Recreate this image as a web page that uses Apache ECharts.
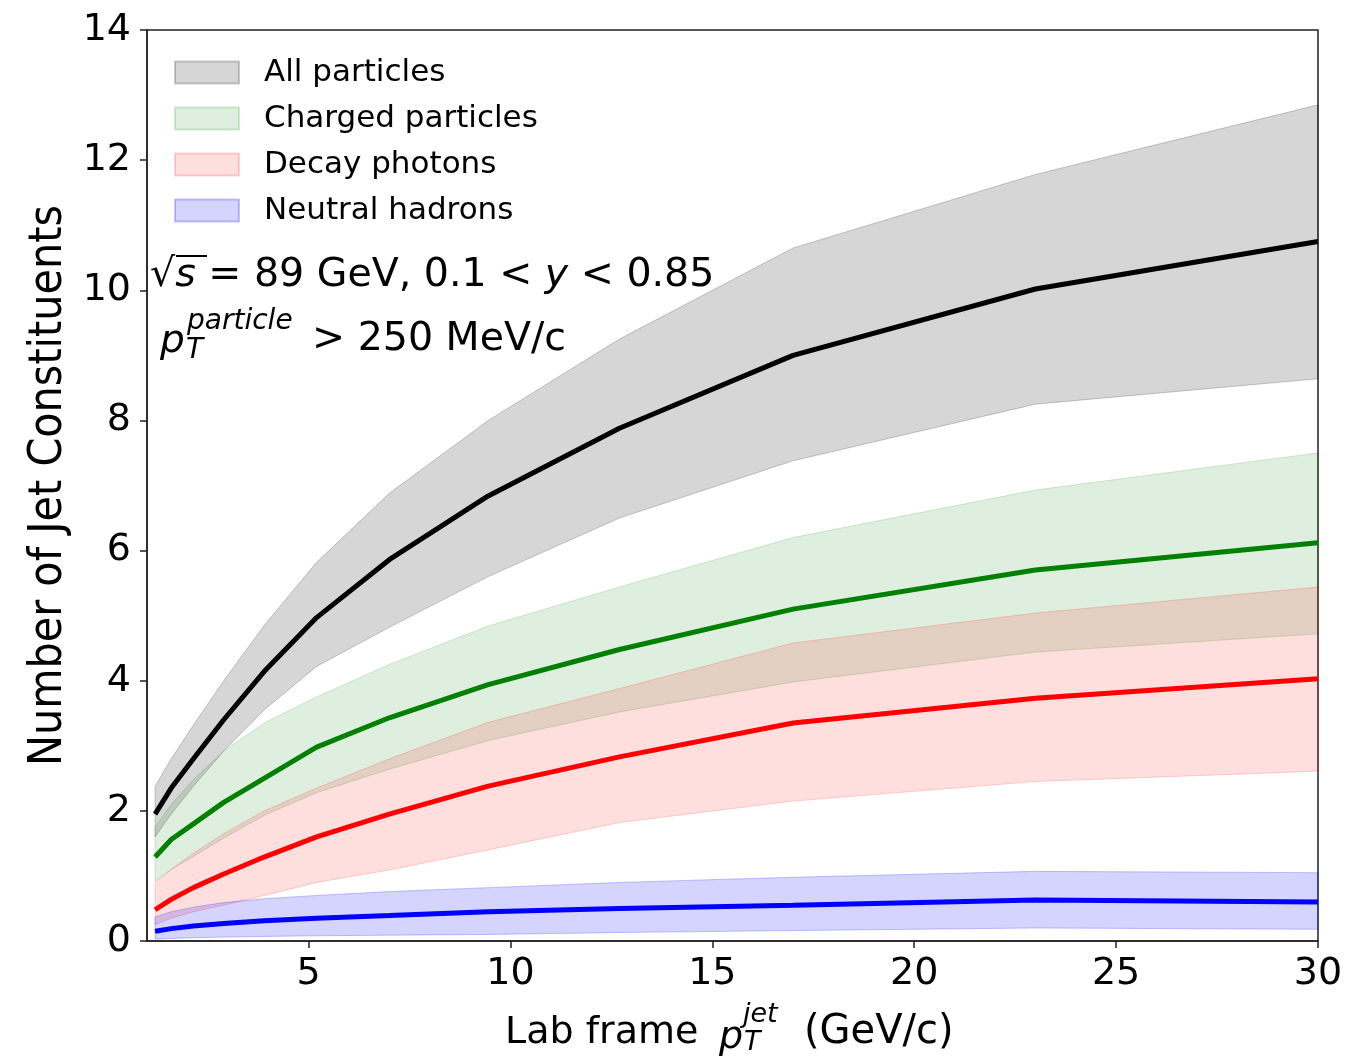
<!DOCTYPE html>
<html>
<head>
<meta charset="utf-8">
<script src="https://cdn.jsdelivr.net/npm/echarts@6/dist/echarts.min.js"></script>
<style>
html,body{margin:0;padding:0;background:#fff;}
#chart{width:1353px;height:1063px;}
</style>
</head>
<body>
<div id="chart"></div>
<script>
// ---------- data ----------
const ptJet = [1.2, 1.6, 2.15, 2.9, 3.9, 5.2, 7.0, 9.45, 12.7, 17.0, 23.0, 30.0];

const allMean  = [1.95, 2.35, 2.80, 3.40, 4.14, 4.97, 5.86, 6.84, 7.88, 9.00, 10.02, 10.75];
const allUpper = [2.38, 2.80, 3.32, 4.00, 4.85, 5.82, 6.88, 8.00, 9.25, 10.65, 11.78, 12.85];
const allLower = [1.60, 1.95, 2.38, 2.92, 3.55, 4.22, 4.82, 5.60, 6.50, 7.38, 8.25, 8.64];

const chgMean  = [1.29, 1.56, 1.80, 2.13, 2.50, 2.98, 3.43, 3.94, 4.48, 5.10, 5.70, 6.12];
const chgUpper = [1.75, 2.10, 2.48, 2.92, 3.35, 3.75, 4.25, 4.84, 5.44, 6.20, 6.93, 7.50];
const chgLower = [0.92, 1.10, 1.30, 1.58, 1.93, 2.28, 2.64, 3.08, 3.52, 3.98, 4.44, 4.72];

const phoMean  = [0.48, 0.64, 0.82, 1.03, 1.29, 1.60, 1.95, 2.38, 2.83, 3.35, 3.73, 4.03];
const phoUpper = [0.90, 1.10, 1.35, 1.65, 2.00, 2.35, 2.80, 3.36, 3.88, 4.58, 5.04, 5.44];
const phoLower = [0.25, 0.35, 0.45, 0.55, 0.70, 0.90, 1.09, 1.40, 1.82, 2.15, 2.45, 2.61];

const neuMean  = [0.15, 0.19, 0.23, 0.27, 0.31, 0.35, 0.39, 0.45, 0.50, 0.55, 0.63, 0.60];
const neuUpper = [0.37, 0.45, 0.52, 0.59, 0.65, 0.70, 0.76, 0.82, 0.90, 0.98, 1.07, 1.05];
const neuLower = [0.03, 0.04, 0.05, 0.06, 0.07, 0.08, 0.09, 0.10, 0.13, 0.16, 0.20, 0.18];

const legendNames = ['All particles', 'Charged particles', 'Decay photons', 'Neutral hadrons'];
const xTickValues = [5, 10, 15, 20, 25, 30];
const yTickValues = [0, 2, 4, 6, 8, 10, 12, 14];

// ---------- helpers ----------
const FONT = "'DejaVu Sans', 'Liberation Sans', sans-serif";
function pairs(ys) { return ptJet.map((x, i) => [x, ys[i]]); }

// band between lower and upper, drawn as one polygon through the axis scales
function bandSeries(name, up, lo, fill, edge) {
  return {
    name: name, type: 'custom', coordinateSystem: 'cartesian2d',
    data: ptJet.map((x, i) => [x, lo[i], up[i]]),
    encode: { x: 0, y: [1, 2] },
    silent: true,
    itemStyle: { color: fill, borderColor: edge, borderWidth: 1 },
    renderItem: function (params, api) {
      if (params.dataIndex !== 0) return null;
      const pts = [];
      for (let i = 0; i < ptJet.length; i++) pts.push(api.coord([ptJet[i], up[i]]));
      for (let i = ptJet.length - 1; i >= 0; i--) pts.push(api.coord([ptJet[i], lo[i]]));
      return {
        type: 'polygon',
        shape: { points: pts },
        style: { fill: fill, stroke: edge, lineWidth: 1 }
      };
    }
  };
}
function meanSeries(key, ys, color) {
  return {
    name: key + '_mean', type: 'line', data: pairs(ys),
    showSymbol: false, silent: true,
    lineStyle: { color: color, width: 5 }, itemStyle: { color: color }
  };
}

const series = [
  bandSeries(legendNames[0], allUpper, allLower, 'rgba(0,0,0,0.16)', 'rgba(0,0,0,0.2)'),
  meanSeries('all', allMean, '#000000'),
  bandSeries(legendNames[1], chgUpper, chgLower, 'rgba(0,128,0,0.125)', 'rgba(0,128,0,0.17)'),
  meanSeries('chg', chgMean, '#008000'),
  bandSeries(legendNames[2], phoUpper, phoLower, 'rgba(255,0,0,0.13)', 'rgba(255,0,0,0.17)'),
  meanSeries('pho', phoMean, '#ff0000'),
  bandSeries(legendNames[3], neuUpper, neuLower, 'rgba(0,0,255,0.17)', 'rgba(0,0,255,0.22)'),
  meanSeries('neu', neuMean, '#0000ff')
];

function txt(text, x, y, size, opts) {
  opts = opts || {};
  return {
    type: 'text', silent: true, z: 100,
    style: Object.assign({
      text: text, x: x, y: y, fontSize: size, fontFamily: FONT,
      fontStyle: opts.italic ? 'italic' : 'normal',
      fill: '#000', align: opts.align || 'left', verticalAlign: 'middle'
    }, opts.style || {})
  };
}

const option = {
  animation: false,
  backgroundColor: '#fff',
  grid: { left: 147, right: 35, top: 30, bottom: 122, show: true, borderColor: '#222', borderWidth: 1.5, backgroundColor: 'transparent' },
  legend: {
    data: legendNames, orient: 'vertical', left: 169, top: 52,
    icon: 'rect', itemWidth: 64, itemHeight: 22, itemGap: 15,
    textStyle: { fontSize: 31, fontFamily: FONT, color: '#000', padding: [0, 0, 0, 20] },
    selectedMode: false
  },
  xAxis: {
    type: 'value', min: 1, max: 30,
    axisLine: { show: true, lineStyle: { color: '#222', width: 1.5 } },
    axisTick: { show: true, inside: false, length: 7, lineStyle: { color: '#222', width: 1.5 }, customValues: xTickValues },
    axisLabel: { fontSize: 38, fontFamily: FONT, color: '#000', margin: 14, customValues: xTickValues },
    splitLine: { show: false }
  },
  yAxis: {
    type: 'value', min: 0, max: 14, interval: 2,
    name: 'Number of Jet Constituents', nameLocation: 'middle', nameGap: 70,
    nameTextStyle: { fontSize: 46, fontFamily: "'DejaVu Sans Condensed', 'DejaVu Sans', sans-serif", color: '#000' },
    axisLine: { show: true, lineStyle: { color: '#222', width: 1.5 } },
    axisTick: { show: true, inside: false, length: 7, lineStyle: { color: '#222', width: 1.5 } },
    axisLabel: { fontSize: 38, fontFamily: FONT, color: '#000', margin: 16, customValues: yTickValues },
    splitLine: { show: false }
  },
  graphic: [
    // annotation line 1
    txt('√{i|s} = 89 GeV, 0.1 < {i|y} < 0.85', 150, 276, 39.5, { style: { rich: { i: { fontStyle: 'italic', fontSize: 39.5, fontFamily: FONT } } } }),
    { type: 'line', silent: true, z: 100, shape: { x1: 176, y1: 256, x2: 207, y2: 256 }, style: { stroke: '#000', lineWidth: 2 } },
    // annotation line 2
    txt('p', 160, 342, 39, { italic: true }),
    txt('particle', 187, 322, 28, { italic: true }),
    txt('T', 186, 351, 28, { italic: true }),
    txt('> 250 MeV/c', 312, 340, 39.5),
    // x-axis title
    txt('Lab frame', 505, 1033, 38),
    txt('p', 719, 1038, 38, { italic: true }),
    txt('jet', 743, 1015, 27, { italic: true }),
    txt('T', 744, 1043, 27, { italic: true }),
    txt('(GeV/c)', 804, 1033, 40)
  ],
  series: series
};

const chart = echarts.init(document.getElementById('chart'), null, { renderer: 'canvas' });
chart.setOption(option);
</script>
</body>
</html>
